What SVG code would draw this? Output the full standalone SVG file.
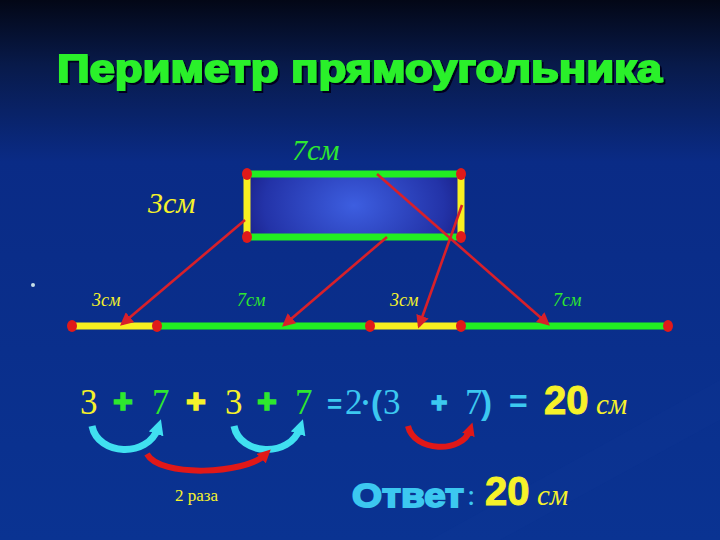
<svg xmlns="http://www.w3.org/2000/svg" width="720" height="540" viewBox="0 0 720 540">
<defs>
  <linearGradient id="bg" x1="0" y1="0" x2="0" y2="1">
    <stop offset="0" stop-color="#030716"/>
    <stop offset="0.12" stop-color="#081a4a"/>
    <stop offset="0.3" stop-color="#0a2b86"/>
    <stop offset="1" stop-color="#0a3392"/>
  </linearGradient>
  <radialGradient id="rectfill" cx="0.5" cy="0.5" r="0.6" gradientTransform="translate(0.5 0.5) scale(1 2.4) translate(-0.5 -0.5)">
    <stop offset="0" stop-color="#3d5ee0"/>
    <stop offset="0.7" stop-color="#2333a8"/>
    <stop offset="1" stop-color="#16187a"/>
  </radialGradient>
  <filter id="shadow" x="-5%" y="-20%" width="110%" height="140%">
    <feDropShadow dx="2" dy="2" stdDeviation="0.6" flood-color="#02061a" flood-opacity="1"/>
  </filter>
  <marker id="ah" viewBox="0 0 10 10" refX="8" refY="5" markerWidth="5" markerHeight="5" orient="auto" markerUnits="strokeWidth">
    <path d="M0,0 L10,5 L0,10 z" fill="#d8202a"/>
  </marker>
  <marker id="ahc" viewBox="0 0 10 10" refX="4" refY="5" markerWidth="2.2" markerHeight="2.2" orient="auto" markerUnits="strokeWidth">
    <path d="M0,0 L10,5 L0,10 z" fill="#40e0f0"/>
  </marker>
  <marker id="ahr" viewBox="0 0 10 10" refX="4" refY="5" markerWidth="2.2" markerHeight="2.2" orient="auto" markerUnits="strokeWidth">
    <path d="M0,0 L10,5 L0,10 z" fill="#e01818"/>
  </marker>
  <style>
    .title{font-family:"Liberation Sans",Arial,sans-serif;font-weight:bold;font-size:38px;fill:#2cf02c;stroke:#2cf02c;stroke-width:1.8px}
    .ital{font-family:"Liberation Serif","Times New Roman",serif;font-style:italic}
    .ser{font-family:"Liberation Serif","Times New Roman",serif}
    .sans{font-family:"Liberation Sans",Arial,sans-serif;font-weight:bold}
    .plus{font-family:"Liberation Sans",Arial,sans-serif;font-weight:bold;stroke-width:1.5px}
    .y{fill:#f6f22a}
    .g{fill:#2ee82e}
    .c{fill:#3cc8f0}
    .gl{stroke:#22ee22;stroke-width:7;stroke-linecap:butt}
    .yl{stroke:#f8f020;stroke-width:7;stroke-linecap:butt}
    .dot{fill:#e01a1a}
    .arr{stroke:#d8202a;stroke-width:2.6;fill:none;marker-end:url(#ah)}
    .carc{stroke:#40e0f0;stroke-width:7;fill:none;stroke-linecap:butt;marker-end:url(#ahc)}
    .rarc{stroke:#e01818;stroke-width:6;fill:none;stroke-linecap:butt;marker-end:url(#ahr)}
  </style>
</defs>
<rect x="0" y="0" width="720" height="540" fill="url(#bg)"/>
<path d="M430 540 L720 380 L720 420 L500 540 z" fill="#1a44a8" opacity="0.08"/>

<g id="title">
  <text x="57" y="82" class="title" filter="url(#shadow)" textLength="605" lengthAdjust="spacingAndGlyphs">Периметр прямоугольника</text>
</g>

<g id="rectangle">
  <rect x="247" y="174" width="214" height="63" fill="url(#rectfill)"/>
  <line x1="247" y1="174" x2="461" y2="174" class="gl"/>
  <line x1="247" y1="237" x2="461" y2="237" class="gl"/>
  <line x1="247" y1="174" x2="247" y2="237" class="yl"/>
  <line x1="461" y1="174" x2="461" y2="237" class="yl"/>
  <ellipse cx="247" cy="174" rx="5" ry="6" class="dot"/>
  <ellipse cx="461" cy="174" rx="5" ry="6" class="dot"/>
  <ellipse cx="247" cy="237" rx="5" ry="6" class="dot"/>
  <ellipse cx="461" cy="237" rx="5" ry="6" class="dot"/>
</g>
<g id="label-top">
  <text x="292" y="160" class="ital g" font-size="30">7см</text>
</g>
<g id="label-side">
  <text x="148" y="213" class="ital y" font-size="30">3см</text>
</g>

<circle cx="33" cy="285" r="2" fill="#c8e0e8"/>

<g id="segment-line">
  <line x1="72" y1="326" x2="157" y2="326" class="yl"/>
  <line x1="157" y1="326" x2="370" y2="326" class="gl"/>
  <line x1="370" y1="326" x2="461" y2="326" class="yl"/>
  <line x1="461" y1="326" x2="668" y2="326" class="gl"/>
  <ellipse cx="72" cy="326" rx="5" ry="6" class="dot"/>
  <ellipse cx="157" cy="326" rx="5" ry="6" class="dot"/>
  <ellipse cx="370" cy="326" rx="5" ry="6" class="dot"/>
  <ellipse cx="461" cy="326" rx="5" ry="6" class="dot"/>
  <ellipse cx="668" cy="326" rx="5" ry="6" class="dot"/>
  <text x="92" y="306" class="ital y" font-size="18">3см</text>
  <text x="237" y="306" class="ital g" font-size="18">7см</text>
  <text x="390" y="306" class="ital y" font-size="18">3см</text>
  <text x="553" y="306" class="ital g" font-size="18">7см</text>
</g>

<g id="connectors">
  <line x1="245" y1="220" x2="122" y2="324" class="arr"/>
  <line x1="387" y1="237" x2="284" y2="325" class="arr"/>
  <line x1="377" y1="174" x2="548" y2="324" class="arr"/>
  <line x1="462" y1="205" x2="419" y2="326" class="arr"/>
</g>

<g id="equation">
  <text x="80" y="414" class="ser y" font-size="35">3</text>
  <text x="113" y="413" class="plus g" font-size="34" stroke="#2ee82e">+</text>
  <text x="152" y="414" class="ser g" font-size="35">7</text>
  <text x="186" y="413" class="plus y" font-size="34" stroke="#f6f22a">+</text>
  <text x="225" y="414" class="ser y" font-size="35">3</text>
  <text x="257" y="413" class="plus g" font-size="34" stroke="#2ee82e">+</text>
  <text x="295" y="414" class="ser g" font-size="35">7</text>
  <text x="327" y="413" class="sans c" font-size="26">=</text>
  <text x="345" y="414" class="ser c" font-size="35">2</text>
  <text x="362" y="410" class="ser c" font-size="20">•</text>
  <text x="371" y="414" class="sans c" font-size="33">(</text>
  <text x="383" y="414" class="ser c" font-size="35">3</text>
  <text x="431" y="412" class="plus c" font-size="28" stroke="#3cc8f0">+</text>
  <text x="465" y="414" class="ser c" font-size="35">7</text>
  <text x="481" y="414" class="sans c" font-size="33">)</text>
  <text x="509" y="412" class="sans c" font-size="32">=</text>
  <text x="544" y="414" class="sans y" font-size="40" stroke="#f6f22a" stroke-width="1">20</text>
  <text x="596" y="414" class="ital y" font-size="29">см</text>
</g>

<g id="arcs">
  <path d="M92 426 C98 456, 148 458, 158 428" class="carc"/>
  <path d="M234 426 C240 456, 290 458, 300 428" class="carc"/>
  <path d="M147 454 C160 478, 245 474, 265 455" class="rarc"/>
  <path d="M408 426 C414 452, 462 454, 470 430" class="rarc"/>
</g>

<g id="note">
  <text x="175" y="501" class="ser y" font-size="17">2 раза</text>
</g>

<g id="answer">
  <text x="352" y="507" class="sans c" font-size="33" style="font-weight:900;stroke:#3cc8f0;stroke-width:1.8" textLength="112" lengthAdjust="spacingAndGlyphs">Ответ</text>
  <text x="467" y="505" class="ser c" font-size="30">:</text>
  <text x="485" y="505" class="sans y" font-size="40" stroke="#f6f22a" stroke-width="1">20</text>
  <text x="537" y="505" class="ital y" font-size="29">см</text>
</g>
</svg>
